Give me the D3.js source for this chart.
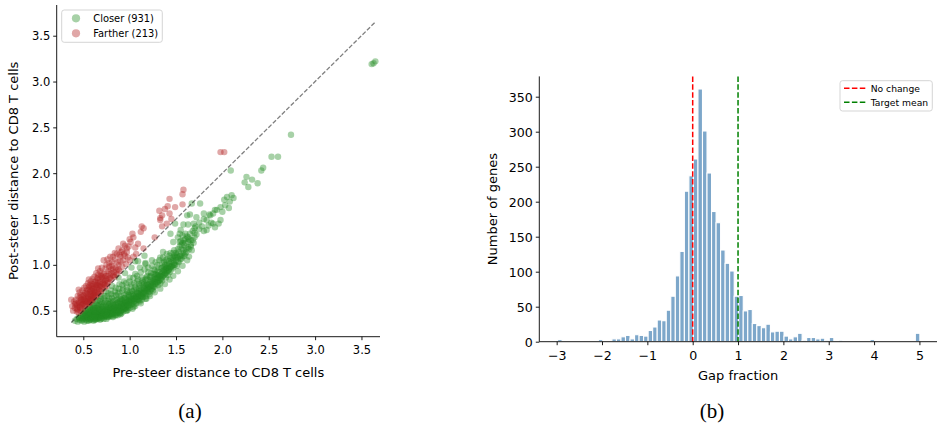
<!DOCTYPE html>
<html><head><meta charset="utf-8">
<script src="https://cdn.jsdelivr.net/npm/d3@7"></script>
<style>body{margin:0;background:#fff}svg{display:block}</style>
</head><body><svg id="c" width="937" height="430"></svg>
<script>
// ---------- Panel (a): scatter data (pre-steer, post-steer) ----------
const closerLabel = "Closer (931)";
const fartherLabel = "Farther (213)";
const closerPts = [
[0.41,0.39],[0.43,0.41],[0.44,0.38],[0.45,0.43],[0.46,0.40],[0.47,0.44],[0.48,0.39],[0.48,0.42],[0.49,0.46],[0.50,0.41],[0.50,0.44],[0.51,0.38],[0.51,0.48],[0.52,0.42],[0.52,0.45],[0.53,0.40],[0.53,0.50],[0.54,0.43],[0.54,0.47],[0.55,0.41],[0.55,0.45],[0.55,0.52],[0.56,0.39],[0.56,0.44],[0.57,0.42],[0.57,0.47],[0.57,0.54],[0.58,0.40],[0.58,0.45],[0.58,0.50],[0.59,0.43],[0.59,0.48],[0.60,0.41],[0.60,0.46],[0.60,0.52],[0.60,0.57],[0.61,0.39],[0.61,0.44],[0.61,0.49],[0.62,0.42],[0.62,0.47],[0.62,0.55],[0.63,0.45],[0.63,0.51],[0.63,0.40],[0.64,0.43],[0.64,0.48],[0.64,0.58],[0.65,0.41],[0.65,0.46],[0.65,0.53],[0.66,0.44],[0.66,0.50],[0.66,0.61],[0.67,0.42],[0.67,0.47],[0.67,0.56],[0.68,0.45],[0.68,0.52],[0.68,0.40],[0.69,0.49],[0.69,0.44],[0.69,0.63],[0.70,0.47],[0.70,0.42],[0.70,0.54],[0.70,0.59],[0.71,0.45],[0.71,0.50],[0.72,0.43],[0.72,0.48],[0.72,0.57],[0.73,0.46],[0.73,0.52],[0.73,0.66],[0.74,0.44],[0.74,0.49],[0.74,0.61],[0.75,0.47],[0.75,0.54],[0.75,0.41],[0.76,0.45],[0.76,0.51],[0.76,0.58],[0.77,0.48],[0.77,0.43],[0.77,0.69],[0.78,0.46],[0.78,0.53],[0.78,0.63],[0.79,0.50],[0.79,0.44],[0.80,0.48],[0.80,0.55],[0.80,0.60],[0.80,0.72],[0.81,0.46],[0.81,0.52],[0.82,0.49],[0.82,0.57],[0.82,0.43],[0.83,0.51],[0.83,0.66],[0.84,0.47],[0.84,0.54],[0.84,0.61],[0.85,0.50],[0.85,0.45],[0.85,0.75],[0.86,0.53],[0.86,0.58],[0.87,0.48],[0.87,0.56],[0.87,0.69],[0.88,0.51],[0.88,0.63],[0.89,0.47],[0.89,0.55],[0.89,0.79],[0.90,0.53],[0.90,0.59],[0.90,0.66],[0.91,0.50],[0.91,0.57],[0.92,0.54],[0.92,0.61],[0.92,0.72],[0.93,0.49],[0.93,0.58],[0.94,0.56],[0.94,0.64],[0.94,0.82],[0.95,0.52],[0.95,0.60],[0.96,0.58],[0.96,0.68],[0.97,0.55],[0.97,0.62],[0.97,0.76],[0.98,0.51],[0.98,0.60],[0.99,0.58],[0.99,0.65],[1.00,0.56],[1.00,0.62],[1.00,0.70],[1.00,0.86],[1.01,0.60],[1.02,0.57],[1.02,0.64],[1.02,0.79],[1.03,0.61],[1.03,0.68],[1.04,0.54],[1.04,0.63],[1.05,0.60],[1.05,0.67],[1.05,0.73],[1.06,0.64],[1.06,0.90],[1.07,0.58],[1.07,0.66],[1.08,0.62],[1.08,0.70],[1.08,0.82],[1.09,0.65],[1.10,0.61],[1.10,0.68],[1.10,0.75],[1.11,0.64],[1.11,0.97],[1.12,0.70],[1.12,0.66],[1.13,0.62],[1.13,0.73],[1.13,0.86],[1.14,0.68],[1.15,0.71],[1.15,0.65],[1.15,0.79],[1.16,0.74],[1.17,0.69],[1.17,0.77],[1.17,1.01],[1.18,0.72],[1.18,0.66],[1.19,0.75],[1.19,0.84],[1.20,0.70],[1.20,0.78],[1.20,0.92],[1.21,0.74],[1.22,0.81],[1.22,0.71],[1.23,0.77],[1.23,0.88],[1.24,0.74],[1.24,1.05],[1.25,0.80],[1.25,0.84],[1.26,0.76],[1.26,0.95],[1.27,0.82],[1.27,0.87],[1.28,0.79],[1.28,0.90],[1.29,0.85],[1.30,0.81],[1.30,0.89],[1.30,1.00],[1.31,0.86],[1.32,0.83],[1.32,0.92],[1.33,0.88],[1.33,1.08],[1.34,0.85],[1.35,0.91],[1.35,0.97],[1.36,0.88],[1.37,0.94],[1.37,1.03],[1.38,0.90],[1.39,0.96],[1.40,0.93],[1.40,1.00],[1.40,1.12],[1.41,0.97],[1.42,0.94],[1.43,1.01],[1.44,0.98],[1.44,1.07],[1.45,1.03],[1.46,0.99],[1.47,1.06],[1.48,1.02],[1.48,1.16],[1.49,1.09],[1.50,1.05],[1.51,1.11],[1.52,1.08],[1.53,1.14],[1.54,1.20],[1.55,1.10],[1.56,1.17],[1.57,1.24],[1.58,1.13],[1.59,1.21],[1.60,1.28],[1.61,1.18],[1.62,1.31],[1.63,1.25],[1.65,1.34],[1.66,1.22],[1.68,1.37],[1.70,1.30],
[1.18,0.63],[1.22,0.66],[1.27,0.70],[1.33,0.74],[1.38,0.79],[1.43,0.84],[1.47,0.88],[1.52,0.93],[1.57,0.99],[1.62,1.05],[1.12,0.58],[1.06,0.55],[0.96,0.50],[0.90,0.46],
[0.46,0.42],[0.49,0.40],[0.52,0.47],[0.54,0.39],[0.56,0.46],[0.57,0.40],[0.59,0.45],[0.60,0.43],[0.61,0.47],[0.62,0.40],[0.63,0.48],[0.64,0.45],[0.65,0.43],[0.66,0.47],[0.67,0.45],[0.68,0.48],[0.69,0.46],[0.70,0.44],[0.71,0.48],[0.72,0.46],[0.73,0.44],[0.74,0.51],[0.75,0.49],[0.76,0.47],[0.77,0.52],[0.78,0.49],[0.79,0.47],[0.80,0.51],[0.81,0.49],[0.82,0.53],[0.83,0.48],[0.84,0.51],[0.85,0.54],[0.86,0.50],[0.87,0.52],[0.88,0.55],[0.89,0.52],[0.90,0.50],[0.91,0.54],[0.92,0.57],[0.93,0.53],[0.94,0.59],[0.95,0.56],[0.96,0.54],[0.97,0.59],[0.98,0.56],[0.99,0.61],[1.00,0.59],[1.01,0.63],[1.02,0.61],[1.03,0.58],[1.04,0.66],[1.05,0.63],[1.06,0.61],[1.07,0.69],[1.08,0.65],[1.09,0.62],[1.10,0.71],[1.11,0.67],[1.12,0.73],[1.13,0.69],[1.14,0.65],[1.15,0.75],[1.16,0.70],[1.17,0.73],[1.18,0.78],[1.19,0.72],[1.20,0.75],[1.21,0.79],[1.22,0.76],[1.23,0.73],[1.24,0.81],[1.25,0.77],[1.26,0.83],[1.27,0.79],[1.28,0.85],[1.29,0.81],[1.30,0.86],[1.31,0.82],[1.32,0.88],[1.33,0.84],[1.34,0.90],[1.35,0.87],[1.36,0.93],[1.37,0.89],[1.38,0.95],[1.39,0.91],[1.40,0.97],[1.41,0.93],[1.42,0.99],[1.43,0.96],[1.45,0.98],[1.46,1.04],[1.48,1.00],[1.50,1.08],[1.52,1.04],[1.54,1.10],[1.56,1.07],[1.58,1.16],[1.60,1.12],[1.63,1.19],[1.66,1.27],
[0.50,0.43],[0.53,0.44],[0.55,0.43],[0.58,0.42],[0.60,0.44],[0.62,0.45],[0.64,0.41],[0.66,0.42],[0.68,0.43],[0.70,0.45],[0.72,0.41],[0.74,0.46],[0.76,0.43],[0.78,0.45],[0.80,0.46],[0.82,0.47],[0.84,0.45],[0.86,0.47],[0.88,0.49],[0.90,0.48],[0.92,0.51],[0.94,0.52],[0.96,0.53],[0.98,0.54],[1.00,0.53],[0.55,0.48],[0.59,0.51],[0.63,0.53],[0.67,0.50],[0.71,0.52],[0.75,0.51],[0.79,0.54],[0.83,0.56],[0.87,0.59],[0.91,0.62],[0.95,0.64],[0.99,0.67],[1.03,0.71],[1.07,0.74],[1.11,0.77],[1.15,0.81],[1.19,0.88],[1.23,0.91],[1.27,0.94],[1.31,0.97],[1.35,1.02],[1.39,1.05],[1.43,1.10],[1.47,1.13],
[0.53,0.46],[0.56,0.49],[0.58,0.47],[0.61,0.51],[0.63,0.43],[0.65,0.49],[0.67,0.52],[0.69,0.41],[0.71,0.55],[0.73,0.49],[0.75,0.45],[0.77,0.55],[0.79,0.58],[0.81,0.44],[0.83,0.53],[0.85,0.57],[0.87,0.45],[0.89,0.60],[0.91,0.47],[0.93,0.55],[0.95,0.62],[0.97,0.50],[0.99,0.56],[1.01,0.66],[1.03,0.52],[1.05,0.57],[1.07,0.63],[1.09,0.69],[1.11,0.60],[1.13,0.66],[1.15,0.69],[1.17,0.63],[1.19,0.79],[1.21,0.68],[1.23,0.83],[1.25,0.72],[1.27,0.76],[1.29,0.89],[1.31,0.78],[1.33,0.80],[1.35,0.83],[1.37,0.98],[1.39,0.86],[1.41,0.89],[1.43,0.92],[1.45,0.95],[1.47,0.97],[1.49,1.00],[1.51,0.99],[1.53,1.03],[1.55,1.06],[1.57,1.09],[1.59,1.10],[1.61,1.14],[1.64,1.09],[1.67,1.16],[1.69,1.24],
[0.62,0.50],[0.66,0.55],[0.70,0.50],[0.74,0.55],[0.78,0.57],[0.82,0.60],[0.86,0.62],[0.90,0.63],[0.94,0.67],[0.98,0.70],[1.02,0.72],[1.06,0.76],[1.10,0.79],[1.14,0.83],[1.18,0.86],[1.22,0.87],[1.26,0.90],[1.30,0.93],[1.34,0.96],[1.38,1.00],[1.42,1.04],[1.46,1.08],[1.50,1.13],
[0.57,0.51],[0.61,0.53],[0.65,0.56],[0.69,0.57],[0.73,0.59],[0.77,0.61],[0.81,0.64],[0.85,0.67],[0.89,0.70],[0.93,0.74],[0.97,0.72],[1.01,0.76],[1.05,0.80],[1.09,0.84],[1.13,0.80],[1.17,0.84],
[0.68,0.61],[0.72,0.64],[0.76,0.66],[0.80,0.68],[0.84,0.71],[0.88,0.74],[0.92,0.78],[0.96,0.80],[1.00,0.82],[1.04,0.86],[1.08,0.88],[1.12,0.92],[1.16,0.95],[1.20,0.97],[1.24,0.99],[1.28,1.03],[1.32,1.05],[1.36,1.08],[1.40,1.06],[1.44,1.13],[1.48,1.10],[1.52,1.17],[1.56,1.22],[1.60,1.24],[1.64,1.28],[1.58,1.27],[1.54,1.25],
[0.52,0.50],[0.58,0.56],[0.63,0.61],[0.69,0.66],[0.74,0.71],[0.81,0.77],[0.88,0.86],[0.95,0.91],[1.02,0.97],[1.09,1.04],[1.16,1.10],
[1.67,1.67],[1.76,1.67],[1.62,1.54],[1.49,1.45],[1.44,1.34],[1.17,1.02],[1.06,1.04],[1.36,1.14],[1.47,1.25],[1.54,1.34],[1.63,1.44],[1.71,1.42],[1.83,1.38],[1.90,1.45],[1.98,1.49],[1.80,1.56],[1.87,1.54],[1.92,1.60],[1.98,1.63],[2.03,1.65],[2.08,1.69],[2.07,1.62],
[1.52,1.30],[1.55,1.38],[1.58,1.44],[1.65,1.55],[1.70,1.40],[1.72,1.33],[1.72,1.52],[1.75,1.46],[1.78,1.42],[1.80,1.37],[1.80,1.50],[1.83,1.49],[1.85,1.43],[1.86,1.55],[1.88,1.46],[1.90,1.56],[1.92,1.41],[1.94,1.60],[1.96,1.45],[2.00,1.58],[2.05,1.74],[2.02,1.71],[2.10,1.76],[2.12,1.73],[1.60,1.34],[1.63,1.30],[1.68,1.27],[1.66,1.20],[1.70,1.35],[1.75,1.39],[1.69,1.45],[1.57,1.32],[1.55,1.26],[1.64,1.17],
[2.09,2.03],[2.26,1.96],[2.32,1.93],[2.24,1.90],[2.38,1.89],[2.28,1.85],[2.42,2.03],[2.44,2.06],[2.53,2.18],[2.60,2.18],[2.74,2.42],[3.61,3.19],[3.63,3.20],[3.65,3.22]
];
const fartherPts = [
[1.98,2.23],[2.02,2.23],[1.58,1.82],[1.57,1.77],[1.43,1.72],[1.57,1.66],[1.49,1.63],[1.32,1.59],[1.38,1.61],[1.41,1.64],[1.43,1.56],[1.33,1.51],[1.35,1.54],[1.45,1.50],[1.35,1.42],[1.40,1.45],[1.13,1.42],[1.15,1.40],[1.12,1.36],[1.27,1.30],[1.15,1.18],[1.33,1.49],
[1.03,1.34],[1.04,1.30],[1.00,1.28],[0.95,1.21],[0.99,1.20],[0.93,1.23],[0.97,1.18],[1.01,1.25],[0.91,1.14],[0.88,1.18],[0.86,1.12],[0.84,1.13],[0.82,1.09],[0.79,1.09],[0.90,1.09],[0.93,1.05],[0.87,1.03],[0.95,1.10],[1.06,1.19],[1.09,1.23],[0.98,1.08],[1.07,1.12],
[0.72,1.05],[0.75,1.00],[0.78,1.02],[0.81,0.99],[0.74,0.96],[0.70,0.97],[0.77,0.93],[0.80,0.95],[0.83,0.92],[0.85,0.97],[0.88,0.95],[0.68,0.93],[0.66,0.96],[0.72,0.90],[0.76,0.88],[0.79,0.86],[0.82,0.88],[0.69,0.88],[0.66,0.89],[0.64,0.91],[0.71,0.84],[0.74,0.83],[0.77,0.81],[0.65,0.85],[0.62,0.87],[0.68,0.81],[0.72,0.79],[0.75,0.77],[0.63,0.82],[0.60,0.85],[0.66,0.78],[0.70,0.76],[0.73,0.75],[0.61,0.79],[0.58,0.82],[0.56,0.84],[0.64,0.75],[0.67,0.73],[0.59,0.77],[0.62,0.72],[0.55,0.80],[0.57,0.74],[0.60,0.70],[0.65,0.70],[0.69,0.71],[0.53,0.77],[0.55,0.72],[0.58,0.68],[0.62,0.67],[0.66,0.68],[0.51,0.75],[0.52,0.70],[0.55,0.66],[0.59,0.64],[0.63,0.65],[0.49,0.72],[0.50,0.67],[0.53,0.64],[0.57,0.62],[0.60,0.62],[0.46,0.70],[0.48,0.65],[0.51,0.62],[0.54,0.60],[0.57,0.59],[0.45,0.73],[0.44,0.66],[0.47,0.61],[0.50,0.58],[0.53,0.57],[0.42,0.62],[0.45,0.59],[0.48,0.56],[0.51,0.55],[0.40,0.60],[0.43,0.56],[0.46,0.54],[0.49,0.52],[0.38,0.55],[0.41,0.53],[0.44,0.51],[0.47,0.50],[0.37,0.62],[0.39,0.50],[0.43,0.49],[0.45,0.48],[0.56,0.58],[0.59,0.61],[0.61,0.64],[0.64,0.67],[0.67,0.70],[0.70,0.73],[0.73,0.78],[0.76,0.80],[0.80,0.84],[0.84,0.87],[0.86,0.90],[0.89,0.93],[0.92,0.98],[0.96,1.01],[1.00,1.05],[1.04,1.09],[0.55,0.63],[0.52,0.60],[0.58,0.66],[0.62,0.69],[0.60,0.75],[0.57,0.70],[0.54,0.68],[0.65,0.80],[0.68,0.77],[0.48,0.60],[0.47,0.67],[0.42,0.58],[0.78,0.98],[0.81,1.03],[0.84,1.06],[0.76,1.06],[0.89,1.11],[0.92,1.16],[0.56,0.76],[0.70,0.87],
[0.44,0.55],[0.46,0.58],[0.47,0.53],[0.49,0.57],[0.50,0.63],[0.52,0.56],[0.53,0.61],[0.54,0.73],[0.55,0.59],[0.56,0.65],[0.57,0.78],[0.58,0.62],[0.59,0.72],[0.60,0.66],[0.61,0.68],[0.61,0.74],[0.62,0.81],[0.63,0.70],[0.64,0.78],[0.65,0.74],[0.66,0.82],[0.67,0.76],[0.68,0.85],[0.69,0.79],[0.70,0.91],[0.71,0.80],[0.72,0.86],[0.73,0.82],[0.74,0.88],[0.75,0.84],[0.77,0.90],[0.78,0.85],[0.80,0.91],[0.82,0.96],[0.83,0.89],[0.86,0.94],[0.88,1.00],[0.90,1.04],[0.94,1.12],[0.97,1.14],[0.51,0.66],[0.48,0.62],[0.58,0.72],[0.63,0.76],[0.46,0.64],[0.41,0.57],[0.43,0.52],[0.53,0.69],[0.59,0.79],[0.66,0.86]
];
const diagRange = [0.37, 3.65];
const scatterXTicks = [0.5, 1.0, 1.5, 2.0, 2.5, 3.0, 3.5];
const scatterYTicks = [0.5, 1.0, 1.5, 2.0, 2.5, 3.0, 3.5];

// ---------- Panel (b): histogram of gap fraction ----------
const histRange = [-2.98, 5.01];
const histCounts = [3,0,0,0,0,0,1,0,0,3, 1,0,4,4,7,9,4,10,9,8, 16,21,31,30,45,65,94,129,215,237, 261,361,301,241,186,170,131,112,101,65, 66,44,46,26,23,20,25,14,15,15, 8,4,7,12,2,6,6,4,5,2, 6,0,2,0,0,0,1,0,0,3, 1,0,0,0,0,0,0,0,0,12];
const histXTicks = [-3,-2,-1,0,1,2,3,4,5];
const histYTicks = [0,50,100,150,200,250,300,350];
const refLines = [{x:0, label:"No change", color:"#ff0000"}, {x:1, label:"Target mean", color:"#008000"}];
const captions = ["(a)", "(b)"];

const svg = d3.select("#c");
const font = '"DejaVu Sans", sans-serif';
const serif = '"Liberation Serif", "Times New Roman", serif';

function styleAxis(a, size) {
  a.select(".domain").attr("stroke", "#000").attr("stroke-width", 0.9);
  a.selectAll(".tick line").attr("stroke", "#000").attr("stroke-width", 0.9);
  a.selectAll("text").style("font-family", font).style("font-size", size + "px").attr("fill", "#000");
}
function label(g, x, y, txt, size, rot) {
  const t = g.append("text").attr("text-anchor", "middle").style("font-family", font).style("font-size", size + "px").text(txt);
  if (rot) t.attr("transform", `translate(${x},${y}) rotate(-90)`); else t.attr("x", x).attr("y", y);
  return t;
}

// ===== Panel (a) =====
const ax = {l:56.7, r:380, t:5, b:336.7};
const x1 = d3.scaleLinear().domain([0.213, 3.70]).range([ax.l, ax.r]);
const y1 = d3.scaleLinear().domain([0.216, 3.835]).range([ax.b, ax.t]);
const gA = svg.append("g");
gA.append("g").selectAll("circle").data(closerPts).join("circle")
  .attr("cx", d => x1(d[0])).attr("cy", d => y1(d[1])).attr("r", 3.2)
  .attr("fill", "#228b22").attr("fill-opacity", 0.4);
gA.append("g").selectAll("circle").data(fartherPts).join("circle")
  .attr("cx", d => x1(d[0])).attr("cy", d => y1(d[1])).attr("r", 3.2)
  .attr("fill", "#b22222").attr("fill-opacity", 0.4);
gA.append("line").attr("x1", x1(diagRange[0])).attr("y1", y1(diagRange[0]))
  .attr("x2", x1(diagRange[1])).attr("y2", y1(diagRange[1]))
  .attr("stroke", "#000").attr("stroke-opacity", 0.5).attr("stroke-width", 1.3)
  .attr("stroke-dasharray", "4.4,1.9");

const xa1 = gA.append("g").attr("transform", `translate(0,${ax.b})`)
  .call(d3.axisBottom(x1).tickValues(scatterXTicks).tickFormat(d3.format(".1f")).tickSize(3.5).tickSizeOuter(0));
const ya1 = gA.append("g").attr("transform", `translate(${ax.l},0)`)
  .call(d3.axisLeft(y1).tickValues(scatterYTicks).tickFormat(d3.format(".1f")).tickSize(3.5).tickSizeOuter(0));
styleAxis(xa1, 11.5); styleAxis(ya1, 11.5);
xa1.selectAll("text").attr("dy", null).attr("y", 17.5);
ya1.selectAll("text").attr("x", -6.5).attr("dy", "0.36em");
xa1.select(".domain").attr("d", `M${ax.l},0H${ax.r}`);
ya1.select(".domain").attr("d", `M0,${ax.b}V${ax.t}`);

label(gA, (ax.l + ax.r) / 2, 377, "Pre-steer distance to CD8 T cells", 13, false);
label(gA, 18, (ax.t + ax.b) / 2, "Post-steer distance to CD8 T cells", 13, true);

const legA = gA.append("g");
legA.append("rect").attr("x", 61.7).attr("y", 10).attr("width", 100.6).attr("height", 32.3)
  .attr("rx", 2.5).attr("fill", "#fff").attr("fill-opacity", 0.8).attr("stroke", "#d0d0d0").attr("stroke-width", 0.9);
[[closerLabel, "#228b22", 18.3], [fartherLabel, "#b22222", 33.3]].forEach(([t, c, yy]) => {
  legA.append("circle").attr("cx", 76).attr("cy", yy).attr("r", 4.1).attr("fill", c).attr("fill-opacity", 0.4);
  legA.append("text").attr("x", 93.3).attr("y", yy).attr("dy", "0.36em").style("font-family", font).style("font-size", "9.9px").text(t);
});

// ===== Panel (b) =====
const bx = {l:539.3, r:938, t:76.4, b:341.7};
const x2 = d3.scaleLinear().domain([-3.383, 5.41]).range([bx.l, bx.r]);
const y2 = d3.scaleLinear().domain([0, 379]).range([bx.b, bx.t]);
const bw = (histRange[1] - histRange[0]) / histCounts.length;
const bins = histCounts.map((c, i) => ({x0: histRange[0] + i * bw, x1: histRange[0] + (i + 1) * bw, c}));
const gB = svg.append("g");
gB.append("g").selectAll("rect").data(bins.filter(b => b.c > 0)).join("rect")
  .attr("x", d => x2(d.x0)).attr("width", d => x2(d.x1) - x2(d.x0))
  .attr("y", d => y2(d.c)).attr("height", d => y2(0) - y2(d.c))
  .attr("fill", "#4682b4").attr("fill-opacity", 0.7)
  .attr("stroke", "#fff").attr("stroke-width", 1.1);
refLines.forEach(r => {
  gB.append("line").attr("x1", x2(r.x)).attr("x2", x2(r.x)).attr("y1", bx.t).attr("y2", bx.b)
    .attr("stroke", r.color).attr("stroke-width", 1.5).attr("stroke-dasharray", "5.5,2.4");
});
const xa2 = gB.append("g").attr("transform", `translate(0,${bx.b})`)
  .call(d3.axisBottom(x2).tickValues(histXTicks).tickFormat(d => d < 0 ? "\u2212" + Math.abs(d) : String(d)).tickSize(3.5).tickSizeOuter(0));
const ya2 = gB.append("g").attr("transform", `translate(${bx.l},0)`)
  .call(d3.axisLeft(y2).tickValues(histYTicks).tickSize(3.5).tickSizeOuter(0));
styleAxis(xa2, 12.6); styleAxis(ya2, 12.6);
xa2.selectAll("text").attr("dy", null).attr("y", 18.5);
ya2.selectAll("text").attr("x", -6.5).attr("dy", "0.36em");
xa2.select(".domain").attr("d", `M${bx.l},0H${bx.r}`);
ya2.select(".domain").attr("d", `M0,${bx.b}V${bx.t}`);

label(gB, (bx.l + 937) / 2, 380, "Gap fraction", 13, false);
label(gB, 497, (bx.t + bx.b) / 2, "Number of genes", 13, true);

const legB = gB.append("g");
legB.append("rect").attr("x", 840).attr("y", 80.7).attr("width", 92.3).attr("height", 30.3)
  .attr("rx", 2.5).attr("fill", "#fff").attr("fill-opacity", 0.8).attr("stroke", "#d0d0d0").attr("stroke-width", 0.9);
refLines.forEach((r, i) => {
  const yy = 88.3 + i * 14;
  legB.append("line").attr("x1", 844).attr("x2", 866.7).attr("y1", yy).attr("y2", yy)
    .attr("stroke", r.color).attr("stroke-width", 1.5).attr("stroke-dasharray", "5.5,2.4");
  legB.append("text").attr("x", 870.7).attr("y", yy).attr("dy", "0.36em").style("font-family", font).style("font-size", "9.2px").text(r.label);
});

// panel captions
[[190, captions[0]], [712, captions[1]]].forEach(([cx, t]) => {
  svg.append("text").attr("x", cx).attr("y", 418).attr("text-anchor", "middle")
    .style("font-family", serif).style("font-size", "21px").text(t);
});
</script></body></html>
